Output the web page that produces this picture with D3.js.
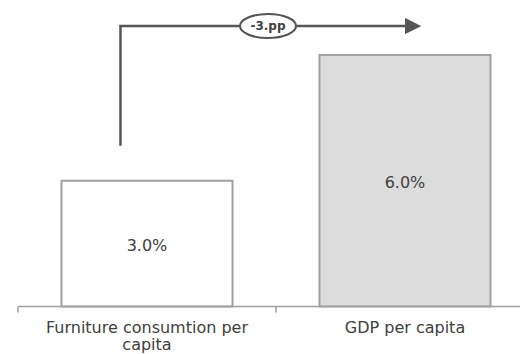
<!DOCTYPE html>
<html>
<head>
<meta charset="utf-8">
<script src="https://cdn.jsdelivr.net/npm/d3@7"></script>
<style>
  body { margin: 0; background: #fff; }
  text { font-family: "DejaVu Sans", Verdana, sans-serif; fill: #404040; }
</style>
</head>
<body>
<div id="chart"></div>
<script>
// data
var categories = ["Furniture consumtion per capita", "GDP per capita"];
var values = [3.0, 6.0];
var labels = ["3.0%", "6.0%"];
var fills = ["#ffffff", "#dcdcdc"];
var gapLabel = "-3.pp";

var width = 520,
    height = 354;

var svg = d3.select('#chart')
  .append('svg')
    .attr('width', width)
    .attr('height', height);

// scales
var x = d3.scaleBand()
  .domain(categories)
  .range([18, 534])
  .padding(0);

var y = d3.scaleLinear()
  .domain([0, 6])
  .range([306.5, 55]);

var barW = x.bandwidth() * 0.663;

// bars
svg.selectAll('.bar')
  .data(values)
  .enter()
  .append('rect')
  .attr('class', 'bar')
  .attr('x', function(d, i) { return x(categories[i]) + (x.bandwidth() - barW) / 2; })
  .attr('y', function(d) { return y(d); })
  .attr('width', barW)
  .attr('height', function(d) { return y(0) - y(d); })
  .style('fill', function(d, i) { return fills[i]; })
  .style('stroke', '#a0a0a0')
  .style('stroke-width', 2);

// value labels in the middle of each bar
svg.selectAll('.bar-label')
  .data(values)
  .enter()
  .append('text')
  .attr('class', 'bar-label')
  .attr('x', function(d, i) { return x(categories[i]) + x.bandwidth() / 2; })
  .attr('y', function(d) { return (y(d) + y(0)) / 2 + 2; })
  .attr('text-anchor', 'middle')
  .attr('dy', '0.35em')
  .style('font-size', '16px')
  .text(function(d, i) { return labels[i]; });

// axis line + ticks at band edges
var axisG = svg.append('g');
axisG.append('line')
  .attr('x1', x.range()[0]).attr('x2', width)
  .attr('y1', y(0)).attr('y2', y(0))
  .style('stroke', '#a0a0a0')
  .style('stroke-width', 1.5);

axisG.selectAll('.tick')
  .data(categories)
  .enter()
  .append('line')
  .attr('x1', function(d) { return x(d); })
  .attr('x2', function(d) { return x(d); })
  .attr('y1', y(0))
  .attr('y2', y(0) + 6)
  .style('stroke', '#a0a0a0')
  .style('stroke-width', 1.5);

// category labels (wrapped)
var catText = axisG.selectAll('.cat')
  .data(categories)
  .enter()
  .append('text')
  .attr('class', 'cat')
  .attr('x', function(d) { return x(d) + x.bandwidth() / 2; })
  .attr('y', y(0) + 26)
  .attr('text-anchor', 'middle')
  .style('font-size', '16px');

catText.each(function(d) {
  var lines = d === categories[0] ? ["Furniture consumtion per", "capita"] : [d];
  var t = d3.select(this);
  lines.forEach(function(l, i) {
    t.append('tspan')
      .attr('x', t.attr('x'))
      .attr('dy', i === 0 ? 0 : 17.5)
      .text(l);
  });
});

// gap arrow
var lineY = 26;
var xStart = x(categories[0]) + x.bandwidth() / 2 - barW / 2 + 59;
var xEnd = x(categories[1]) + x.bandwidth() / 2 + 15;

svg.append('defs').append('marker')
  .attr('id', 'arrow')
  .attr('viewBox', '0 0 10 10')
  .attr('refX', 0)
  .attr('refY', 5)
  .attr('markerWidth', 6.5)
  .attr('markerHeight', 6.5)
  .attr('orient', 'auto')
  .append('path')
  .attr('d', 'M0,0 L10,5 L0,10 Z')
  .style('fill', '#555');

svg.append('path')
  .attr('d', 'M' + xStart + ',' + (y(3) - 35) + ' L' + xStart + ',' + lineY + ' L' + (xEnd - 15) + ',' + lineY)
  .style('fill', 'none')
  .style('stroke', '#555')
  .style('stroke-width', 2.5)
  .attr('marker-end', 'url(#arrow)');

var cx = 268;
svg.append('ellipse')
  .attr('cx', cx)
  .attr('cy', lineY)
  .attr('rx', 28)
  .attr('ry', 12)
  .style('fill', '#fff')
  .style('stroke', '#555')
  .style('stroke-width', 2);

svg.append('text')
  .attr('x', cx)
  .attr('y', lineY)
  .attr('dy', '0.35em')
  .attr('text-anchor', 'middle')
  .style('font-size', '12px')
  .style('font-weight', 'bold')
  .text(gapLabel);
</script>
</body>
</html>
